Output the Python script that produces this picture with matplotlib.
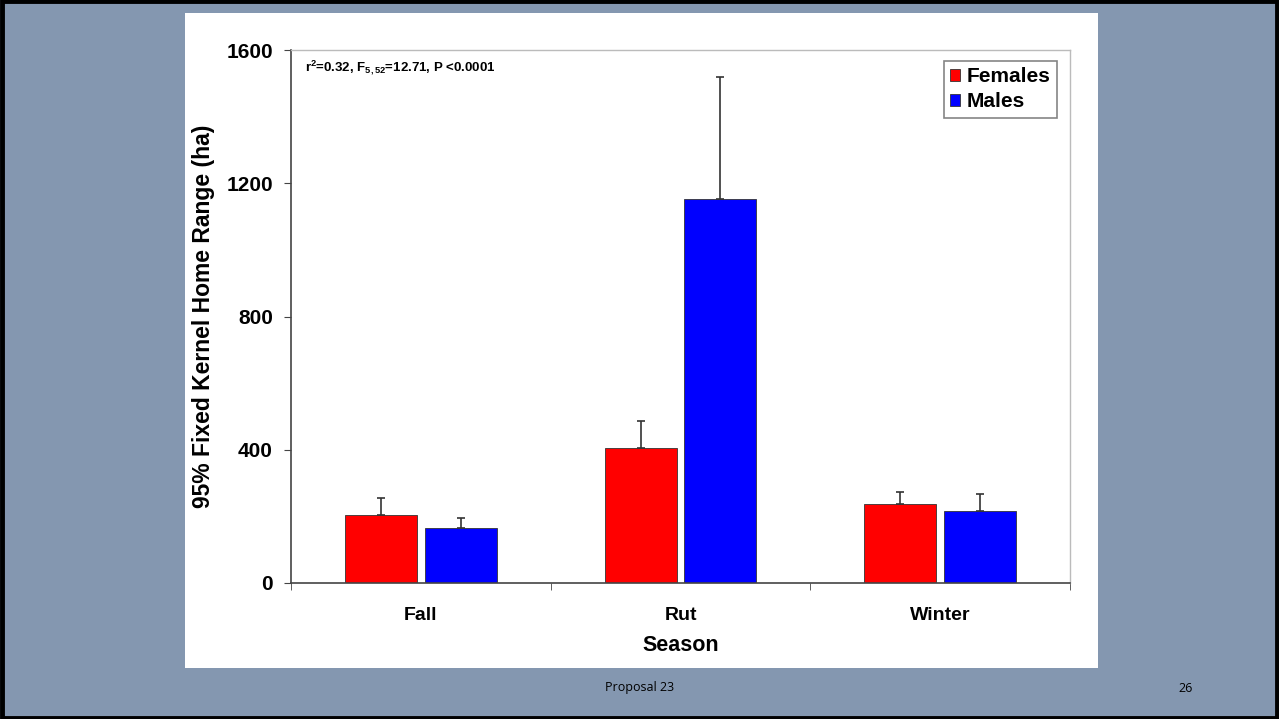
import matplotlib
matplotlib.use("Agg")
import matplotlib.pyplot as plt
from matplotlib.patches import Rectangle
import numpy as np

seasons = ["Fall", "Rut", "Winter"]
females = [204, 405, 237]
females_err = [50, 81, 36]
males = [165, 1152, 216]
males_err = [30, 366, 51]
yticks = [0, 400, 800, 1200, 1600]

plt.rcParams['font.family'] = ['Liberation Sans', 'DejaVu Sans']
plt.rcParams['mathtext.fontset'] = 'custom'
plt.rcParams['mathtext.rm'] = 'Liberation Sans:bold'
plt.rcParams['mathtext.it'] = 'Liberation Sans:italic:bold'
plt.rcParams['mathtext.bf'] = 'Liberation Sans:bold'

W, H = 1279, 719
fig = plt.figure(figsize=(W / 100, H / 100), dpi=100, facecolor="#8497B0")

# slide border
fig.patches.append(Rectangle((0.0015, 0.002), 0.997, 0.996, transform=fig.transFigure,
                             fill=False, edgecolor="black", linewidth=3.5, zorder=-10))
# white chart area
fig.patches.append(Rectangle((185 / W, (H - 668) / H), (1098 - 185) / W, (668 - 13) / H,
                             transform=fig.transFigure, facecolor="white",
                             edgecolor="none", zorder=-10))

ax = fig.add_axes([291 / W, (H - 583) / H, (1070 - 291) / W, (583 - 50) / H])
ax.set_zorder(1)
ax.set_facecolor("white")

x = np.arange(len(seasons))
bw = 0.277
off = 0.153
ax.bar(x - off, females, bw, color="#FF0000", edgecolor="#333333", linewidth=0.6,
       label="Females", zorder=2)
ax.bar(x + off, males, bw, color="#0000FF", edgecolor="#333333", linewidth=0.6,
       label="Males", zorder=2)
ax.errorbar(x - off, females, yerr=[np.zeros(3), females_err], fmt="none",
            ecolor="#333333", elinewidth=1.2, capsize=3, capthick=1.2, zorder=3)
ax.errorbar(x + off, males, yerr=[np.zeros(3), males_err], fmt="none",
            ecolor="#333333", elinewidth=1.2, capsize=3, capthick=1.2, zorder=3)

ax.set_xlim(-0.5, 2.5)
ax.set_ylim(0, 1600)
ax.set_yticks(yticks)
ax.set_yticklabels([str(v) for v in yticks], fontsize=15, fontweight="bold")
ax.set_xticks(x)
ax.set_xticklabels(seasons, fontsize=14, fontweight="bold")
ax.set_xticks([-0.5, 0.5, 1.5, 2.5], minor=True)
ax.tick_params(axis="x", which="major", length=0, pad=17)
ax.tick_params(axis="x", which="minor", length=5, direction="out", color="#444444")
ax.tick_params(axis="y", length=5, direction="out", color="#444444", pad=8)

for s in ["top", "right"]:
    ax.spines[s].set_color("#BBBBBB")
    ax.spines[s].set_linewidth(1)
for s in ["left", "bottom"]:
    ax.spines[s].set_color("#444444")
    ax.spines[s].set_linewidth(1.2)

ax.set_ylabel("95% Fixed Kernel Home Range (ha)", fontsize=16.5, fontweight="bold", labelpad=8)
ax.set_xlabel("Season", fontsize=15.5, fontweight="bold", labelpad=8)

ax.text(0.018, 0.968, r"r$^{2}$=0.32, F$_{\mathit{5,52}}$=12.71, P <0.0001",
        transform=ax.transAxes, fontsize=9.5, fontweight="bold", va="center", ha="left")

leg = ax.legend(loc="upper right", bbox_to_anchor=(0.9885, 0.9875),
                prop={"weight": "bold", "size": 15}, frameon=True, fancybox=False,
                edgecolor="#666666", handlelength=0.5, handleheight=0.5,
                handletextpad=0.3, borderpad=0.3, labelspacing=0.3, borderaxespad=0.2)
leg.get_frame().set_linewidth(1.2)

fig.text(640 / W, 1 - 688 / H, "Proposal 23", ha="center", va="center",
         fontsize=9, family=["Open Sans", "DejaVu Sans"], color="black")
fig.text(1186 / W, 1 - 688 / H, "26", ha="center", va="center",
         fontsize=9, family=["Open Sans", "DejaVu Sans"], color="black")

fig.savefig("out.png", dpi=100, facecolor=fig.get_facecolor())
